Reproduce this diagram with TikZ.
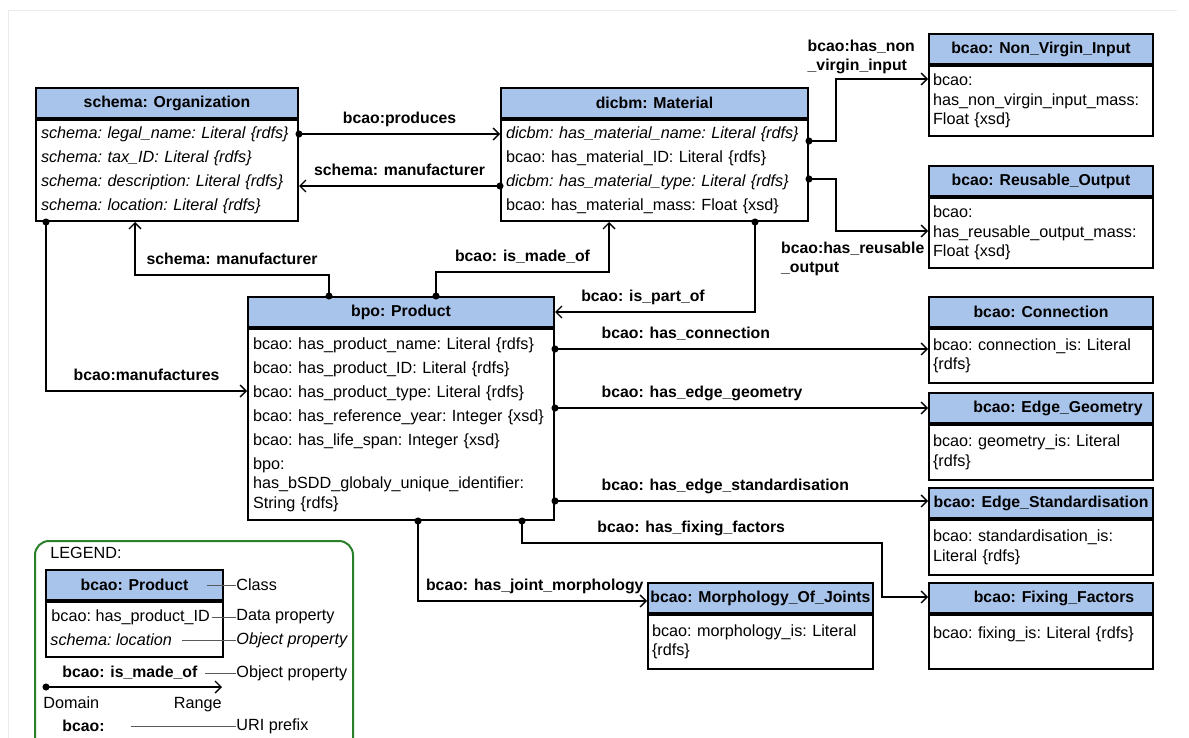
\documentclass[tikz,border=0pt]{standalone}
\usepackage{fontspec}
\setmainfont{Liberation Sans}
\usetikzlibrary{arrows.meta}
\definecolor{headblue}{RGB}{169,196,235}
\definecolor{legendgreen}{RGB}{40,128,40}
\newcommand{\lblfont}{\fontsize{7.9}{9.5}\selectfont\bfseries}
\newcommand{\nl}{\\[2.2pt]}

\begin{document}
\begin{tikzpicture}[x=0.5pt,y=-0.5pt,font=\fontsize{8.1}{9.8}\selectfont\frenchspacing]
    \tikzstyle{head}=[draw,line width=1pt,fill=headblue,anchor=north west,minimum height=15pt,inner sep=0pt,font=\lblfont]
    \tikzstyle{body}=[draw,line width=1pt,anchor=north west,align=left,inner xsep=2.5pt,inner ysep=0pt]
    \tikzstyle{sbody}=[body,inner xsep=2pt,text width=108pt]
    \tikzstyle{rel}=[line width=0.7pt,shorten <=-1.75pt,{Circle[length=3.5pt]}-{Straight Barb[length=3pt,width=6pt]}]
    \tikzstyle{lbl}=[font=\lblfont,inner sep=2pt,text height=6pt,text depth=1.8pt]
    \tikzstyle{legline}=[gray!70!black,line width=0.5pt]

    \useasboundingbox (0,0) rectangle (1189,738);
    \draw[black!8] (8,745) -- (8,10) -- (1177,10);

    % classes
    \node[head,minimum width=131pt] at (35,87) (orgH) {schema: Organization};
    \node[body,text width=126pt,minimum height=50.5pt] at (orgH.south west) (orgB)
        {\textit{schema: legal\_name: Literal \{rdfs\}}\nl
         \textit{schema: tax\_ID: Literal \{rdfs\}}\nl
         \textit{schema: description: Literal \{rdfs\}}\nl
         \textit{schema: location: Literal \{rdfs\}}};

    \node[head,minimum width=153.5pt] at (500,87) (matH) {dicbm: Material};
    \node[body,text width=148.5pt,minimum height=50.5pt] at (matH.south west) (matB)
        {\textit{dicbm: has\_material\_name: Literal \{rdfs\}}\nl
         bcao: has\_material\_ID: Literal \{rdfs\}\nl
         \textit{dicbm: has\_material\_type: Literal \{rdfs\}}\nl
         bcao: has\_material\_mass: Float \{xsd\}};

    \node[head,minimum width=153pt] at (247,296) (prodH) {bpo: Product};
    \node[body,text width=148pt,minimum height=95.5pt] at (prodH.south west) (prodB)
        {bcao: has\_product\_name: Literal \{rdfs\}\nl
         bcao: has\_product\_ID: Literal \{rdfs\}\nl
         bcao: has\_product\_type: Literal \{rdfs\}\nl
         bcao: has\_reference\_year: Integer \{xsd\}\nl
         bcao: has\_life\_span: Integer \{xsd\}\nl
         bpo:\\has\_bSDD\_globaly\_unique\_identifier:\\String \{rdfs\}};

    \node[head,minimum width=112pt] at (928,33) (nviH) {bcao: Non\_Virgin\_Input};
    \node[sbody,minimum height=35pt] at (nviH.south west) (nviB)
        {bcao:\\has\_non\_virgin\_input\_mass:\\Float \{xsd\}};

    \node[head,minimum width=112pt] at (928,165) (reuH) {bcao: Reusable\_Output};
    \node[sbody,minimum height=35pt] at (reuH.south west) (reuB)
        {bcao:\\has\_reusable\_output\_mass:\\Float \{xsd\}};

    \node[head,minimum width=112pt] at (928,296) (conH) {bcao: Connection};
    \node[sbody,minimum height=27pt] at (conH.south west) (conB)
        {bcao: connection\_is: Literal\\\{rdfs\}};

    \node[head,minimum width=112pt] at (928,392) (geoH) {\hspace*{17pt}bcao: Edge\_Geometry};
    \node[sbody,minimum height=27.5pt] at (geoH.south west) (geoB)
        {bcao: geometry\_is: Literal\\\{rdfs\}};

    \node[head,minimum width=112pt] at (928,487) (stdH) {bcao: Edge\_Standardisation};
    \node[sbody,minimum height=27.5pt] at (stdH.south west) (stdB)
        {bcao: standardisation\_is:\\Literal \{rdfs\}};

    \node[head,minimum width=112.5pt] at (647,582) (morH) {bcao: Morphology\_Of\_Joints};
    \node[sbody,text width=108.5pt,minimum height=27pt] at (morH.south west) (morB)
        {bcao: morphology\_is: Literal\\\{rdfs\}};

    \node[head,minimum width=112pt] at (928,582) (fixH) {\hspace*{13pt}bcao: Fixing\_Factors};
    \node[sbody,minimum height=27pt] at (fixH.south west) (fixB)
        {bcao: fixing\_is: Literal \{rdfs\}\\\mbox{}};

    % relations
    \draw[rel] (orgB.east |- 0,134) -- (matB.west |- 0,134) node[midway,above=1pt,lbl] {bcao:produces};
    \draw[rel] (matB.west |- 0,186) -- (orgB.east |- 0,186) node[midway,above=1pt,lbl] {schema: manufacturer};
    \draw[rel] (prodH.north -| 329,0) -- ++(0,-21) -| (orgB.south -| 135,0) node[pos=0.25,above=1pt,lbl] {schema: manufacturer};
    \draw[rel] (prodH.north -| 436,0) -- ++(0,-24) -| (matB.south -| 609,0) node[pos=0.25,above=1pt,lbl] {bcao: is\_made\_of};
    \draw[rel] (matB.south -| 755,0) |- (prodH.east |- 0,312) node[pos=0.78,above=1pt,lbl] {bcao: is\_part\_of};
    \draw[rel] (orgB.south -| 46,0) |- (prodB.west |- 0,391) node[pos=0.75,above=1pt,lbl] {bcao:manufactures};

    \draw[rel] (matB.east |- 0,141) -- ++(27,0) |- (nviB.west |- 0,79)
        node[pos=0.5,anchor=south west,xshift=-15.5pt,yshift=1pt,inner sep=1pt,align=left,font=\lblfont] {bcao:has\_non\\\_virgin\_input};
    \draw[rel] (matB.east |- 0,179) -- ++(27,0) |- (reuB.west |- 0,231)
        node[pos=1,anchor=north east,xshift=-0.5pt,yshift=-4pt,inner sep=1pt,align=left,font=\lblfont] {bcao:has\_reusable\\\_output};

    \draw[rel] (prodB.east |- 0,349) -- (conB.west |- 0,349) node[pos=0,anchor=south west,xshift=21pt,yshift=1pt,lbl] {bcao: has\_connection};
    \draw[rel] (prodB.east |- 0,408) -- (geoH.west |- 0,408) node[pos=0,anchor=south west,xshift=21pt,yshift=1pt,lbl] {bcao: has\_edge\_geometry};
    \draw[rel] (prodB.east |- 0,501) -- (stdH.west |- 0,501) node[pos=0,anchor=south west,xshift=21pt,yshift=1pt,lbl] {bcao: has\_edge\_standardisation};
    \draw[rel] (prodB.south -| 522,0) |- (882,543) node[pos=0.735,above=1pt,lbl] {bcao: has\_fixing\_factors}
        |- (fixH.west |- 0,597);
    \draw[rel] (prodB.south -| 418,0) |- (morH.west |- 0,601) node[pos=0.755,above=1pt,lbl] {bcao: has\_joint\_morphology};

    % legend
    \draw[legendgreen,line width=1pt,rounded corners=7pt] (35,541) rectangle (353,770);
    \node[anchor=west,inner sep=0pt] at (50,553) (legTitle) {LEGEND:};
    \node[head,minimum width=88.5pt] at (45,569) (legH) {bcao: Product};
    \node[body,minimum width=88.5pt,minimum height=27.5pt] at (legH.south west) (legB) {};
    \node[anchor=west,inner sep=0pt] at (51,617) (legDP) {bcao: has\_product\_ID};
    \node[anchor=west,inner sep=0pt] at (50,640) (legOP) {\textit{schema: location}};
    \node[anchor=west,inner sep=0pt,font=\lblfont] at (62,673) (legRel) {bcao: is\_made\_of};
    \coordinate (legDom) at (46,687);
    \coordinate (legRan) at (222,687);
    \draw[rel] (legDom) -- (legRan);
    \node[anchor=base west,inner sep=0pt] at (43,708) (legDomTxt) {Domain};
    \node[anchor=base east,inner sep=0pt] at (222,708) (legRanTxt) {Range};
    \node[anchor=west,inner sep=0pt,font=\lblfont] at (62,726) (legPre) {bcao:};

    \node[anchor=west,inner sep=0pt] at (236,585) (legClass) {Class};
    \node[anchor=west,inner sep=0pt] at (236,617) (legDPTxt) {Data property};
    \node[anchor=west,inner sep=0pt] at (236,640) (legOPTxt) {\textit{Object property}};
    \node[anchor=west,inner sep=0pt] at (236,673) (legRelTxt) {Object property};
    \node[anchor=west,inner sep=0pt] at (236,726) (legPreTxt) {URI prefix};

    \draw[legline] ([xshift=-8.5pt]legH.east) -- (legClass.west);
    \draw[legline] ([xshift=1pt]legDP.east) -- (legDPTxt.west);
    \draw[legline] ([xshift=5pt]legOP.east) -- (legOPTxt.west);
    \draw[legline] ([xshift=3.5pt]legRel.east) -- (legRelTxt.west);
    \draw[legline] ([xshift=13pt]legPre.east) -- (legPreTxt.west);
\end{tikzpicture}
\end{document}
